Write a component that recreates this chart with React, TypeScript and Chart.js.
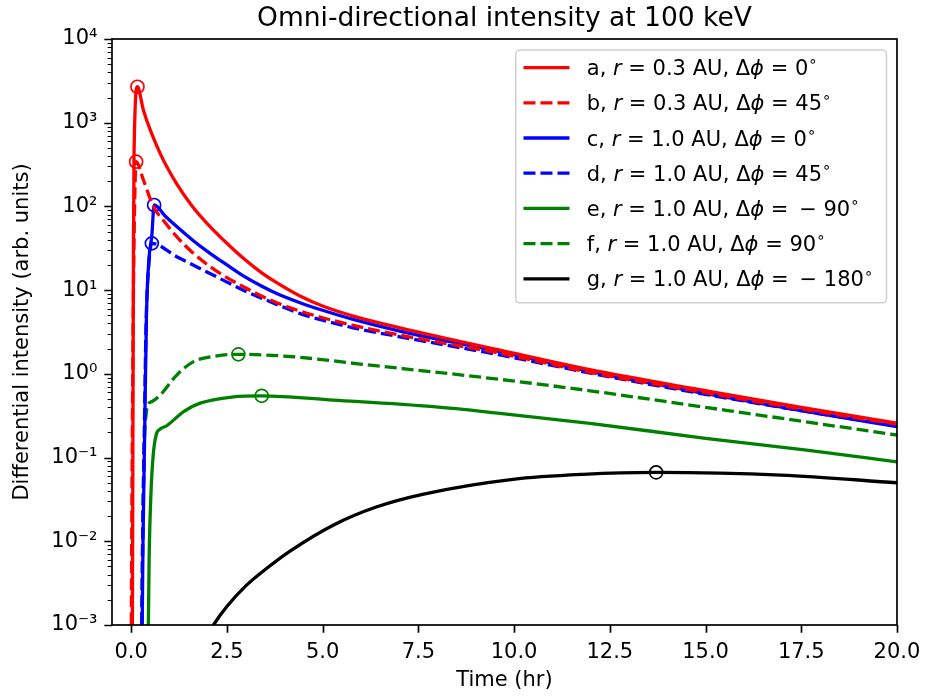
import React, { useEffect, useRef } from "react";
import { Chart, registerables } from "chart.js";

Chart.register(...registerables);

const FONT = "DejaVu Sans";

const TITLE = "Omni-directional intensity at 100 keV";
const X_LABEL = "Time (hr)";
const Y_LABEL = "Differential intensity (arb. units)";

const X_TICKS = [0, 2.5, 5, 7.5, 10, 12.5, 15, 17.5, 20];
const Y_EXPONENTS = [-3, -2, -1, 0, 1, 2, 3, 4];
const X_MIN = -0.5;
const X_MAX = 20;

const LETTERS = ["a", "b", "c", "d", "e", "f", "g"];
const RADII = [0.3, 0.3, 1.0, 1.0, 1.0, 1.0, 1.0];
const DPHI = [0, 45, 0, 45, -90, 90, -180];
const COLORS = ["#ff0000", "#ff0000", "#0000ff", "#0000ff", "#008000", "#008000", "#000000"];
const DASHED = [false, true, false, true, false, true, false];

// a: r = 0.3 AU, dphi = 0
const tA = [0.03, 0.045, 0.06, 0.075, 0.165, 0.32, 0.76, 1.19, 1.6, 2.06, 2.5, 2.93, 3.4, 3.8, 4.41, 5.0, 5.8, 7.02, 9.63, 12.25, 15, 17.5, 20];
const vA = [0.0004, 0.1, 31.6, 398, 2690, 1413, 427, 186, 100, 57.5, 36.3, 24.0, 16.2, 12.3, 8.51, 6.46, 4.9, 3.55, 1.92, 1.06, 0.631, 0.398, 0.257];
// b: r = 0.3 AU, dphi = 45
const tB = [0.0, 0.02, 0.05, 0.09, 0.13, 0.32, 0.58, 0.9, 1.19, 1.6, 2.06, 2.5, 2.93, 3.4, 3.8, 4.41, 5.0, 5.8, 7.02, 9.63, 12.25, 15, 17.5, 20];
const vB = [0.0004, 0.0316, 3.16, 100, 342, 207, 100, 63.1, 43.5, 28.2, 19.1, 14.1, 11.0, 8.51, 7.08, 5.62, 4.68, 3.8, 2.91, 1.76, 0.986, 0.596, 0.38, 0.251];
// c: r = 1.0 AU, dphi = 0
const tC = [0.28, 0.31, 0.35, 0.4, 0.47, 0.54, 0.6, 0.9, 1.19, 1.6, 2.06, 2.5, 2.93, 3.4, 3.8, 4.41, 5.0, 5.8, 7.02, 9.63, 12.25, 15, 17.5, 20];
const vC = [0.0004, 0.01, 0.158, 5.01, 25.1, 44.7, 104, 75.9, 57.5, 39.8, 27.5, 20.0, 14.8, 11.2, 9.12, 7.08, 5.75, 4.47, 3.24, 1.84, 1.01, 0.582, 0.363, 0.234];
// d: r = 1.0 AU, dphi = 45
const tD = [0.27, 0.3, 0.34, 0.39, 0.46, 0.54, 1.19, 2.06, 2.93, 3.8, 4.41, 5.0, 5.8, 7.02, 9.63, 12.25, 15, 17.5, 20];
const vD = [0.0004, 0.01, 0.158, 3.98, 20.0, 36.2, 25.1, 15.8, 10.0, 6.76, 5.25, 4.37, 3.55, 2.77, 1.68, 0.968, 0.569, 0.363, 0.24];
// e: r = 1.0 AU, dphi = -90
const tE = [0.44, 0.47, 0.52, 0.58, 0.66, 0.76, 0.93, 1.37, 1.8, 2.67, 3.41, 5.28, 7.89, 9.63, 11.98, 15, 17.64, 20];
const vE = [0.0004, 0.0063, 0.0398, 0.112, 0.191, 0.219, 0.24, 0.355, 0.447, 0.531, 0.547, 0.486, 0.405, 0.337, 0.256, 0.17, 0.123, 0.089];
// f: r = 1.0 AU, dphi = 90
const tF = [0.27, 0.3, 0.34, 0.4, 0.45, 0.55, 0.76, 1.19, 1.63, 2.24, 2.8, 4.24, 5.98, 9.63, 11.98, 15, 20];
const vF = [0.0004, 0.01, 0.126, 0.355, 0.437, 0.468, 0.558, 0.968, 1.4, 1.64, 1.71, 1.6, 1.31, 0.859, 0.628, 0.398, 0.186];
// g: r = 1.0 AU, dphi = -180
const tG = [1.95, 2.15, 2.5, 3.0, 3.55, 4.14, 5.3, 6.4, 7.64, 9.97, 11.8, 13.71, 16.97, 20];
const vG = [0.000692, 0.001, 0.00166, 0.00295, 0.00479, 0.00759, 0.0158, 0.0257, 0.0367, 0.055, 0.0631, 0.0665, 0.0618, 0.05];

const TIMES = [tA, tB, tC, tD, tE, tF, tG];
const VALUES = [vA, vB, vC, vD, vE, vF, vG];

const SUP: Record<string, string> = {
  "0": "\u2070", "1": "\u00b9", "2": "\u00b2", "3": "\u00b3", "4": "\u2074",
  "5": "\u2075", "6": "\u2076", "7": "\u2077", "8": "\u2078", "9": "\u2079", "-": "\u207b",
};
const supText = (n: number) => String(n).split("").map((c) => SUP[c] || c).join("");

type Piece = { t: string; s?: "i" | "sup" };

function labelPieces(i: number): Piece[] {
  const d = DPHI[i];
  const p: Piece[] = [
    { t: `${LETTERS[i]}, ` },
    { t: "r", s: "i" },
    { t: " = " + RADII[i].toFixed(1) + " AU, \u0394" },
    { t: "\u03d5", s: "i" },
  ];
  if (d < 0) p.push({ t: " = \u2009\u2212 " + Math.abs(d) });
  else p.push({ t: " = " + d });
  p.push({ t: "\u2218", s: "sup" });
  return p;
}

function labelString(i: number): string {
  return labelPieces(i).map((p) => (p.s === "sup" ? "\u00b0" : p.t)).join("");
}

function drawPieces(ctx: CanvasRenderingContext2D, pieces: Piece[], x: number, y: number, fs: number, measureOnly = false): number {
  let cx = x;
  for (const p of pieces) {
    let size = fs;
    let dy = 0;
    let style = "";
    if (p.s === "i") style = "italic ";
    if (p.s === "sup") {
      size = fs * 0.7;
      dy = -fs * 0.42;
    }
    ctx.font = `${style}${size}px "${FONT}"`;
    if (!measureOnly) ctx.fillText(p.t, cx, y + dy);
    cx += ctx.measureText(p.t).width;
  }
  return cx - x;
}

const FS = 21;
const LW = 3.3;
const DASH = [12, 5];

const mplPlugin = {
  id: "mplDecor",
  afterDatasetsDraw(chart: any) {
    const { ctx, chartArea: a, scales } = chart;
    const xs = scales.x;
    const ys = scales.y;
    ctx.save();
    ctx.strokeStyle = "#000";
    ctx.lineCap = "butt";
    // ticks
    ctx.lineWidth = 1.7;
    ctx.beginPath();
    for (const v of X_TICKS) {
      const px = Math.round(xs.getPixelForValue(v)) + 0.5;
      ctx.moveTo(px, a.bottom);
      ctx.lineTo(px, a.bottom + 7.7);
    }
    for (const e of Y_EXPONENTS) {
      const py = Math.round(ys.getPixelForValue(Math.pow(10, e))) + 0.5;
      ctx.moveTo(a.left, py);
      ctx.lineTo(a.left - 7.7, py);
    }
    ctx.stroke();
    ctx.lineWidth = 1.2;
    ctx.beginPath();
    for (const e of Y_EXPONENTS) {
      if (e >= 4) continue;
      for (let m = 2; m <= 9; m++) {
        const py = Math.round(ys.getPixelForValue(m * Math.pow(10, e))) + 0.5;
        ctx.moveTo(a.left, py);
        ctx.lineTo(a.left - 4.4, py);
      }
    }
    ctx.stroke();
    // frame
    ctx.lineWidth = 1.7;
    ctx.strokeRect(a.left, a.top, a.right - a.left, a.bottom - a.top);

    // legend
    const pad = 7.7;
    const handle = 46;
    const textPad = 17.3;
    const rightPad = 13.4;
    const rowGap = 35.2;
    const firstRow = 17.6;
    const lastPad = 24;
    let maxW = 0;
    for (let i = 0; i < LETTERS.length; i++) {
      maxW = Math.max(maxW, drawPieces(ctx, labelPieces(i), 0, 0, FS, true));
    }
    const boxW = pad + handle + textPad + maxW + rightPad;
    const boxR = a.right - 10.5;
    const boxL = boxR - boxW;
    const boxT = a.top + 11;
    const boxB = boxT + firstRow + rowGap * (LETTERS.length - 1) + lastPad;
    const r = 4;
    ctx.beginPath();
    ctx.moveTo(boxL + r, boxT);
    ctx.lineTo(boxR - r, boxT);
    ctx.arcTo(boxR, boxT, boxR, boxT + r, r);
    ctx.lineTo(boxR, boxB - r);
    ctx.arcTo(boxR, boxB, boxR - r, boxB, r);
    ctx.lineTo(boxL + r, boxB);
    ctx.arcTo(boxL, boxB, boxL, boxB - r, r);
    ctx.lineTo(boxL, boxT + r);
    ctx.arcTo(boxL, boxT, boxL + r, boxT, r);
    ctx.closePath();
    ctx.fillStyle = "rgba(255,255,255,0.8)";
    ctx.fill();
    ctx.lineWidth = 1.5;
    ctx.strokeStyle = "#d0d0d0";
    ctx.stroke();

    ctx.textBaseline = "alphabetic";
    ctx.textAlign = "left";
    for (let i = 0; i < LETTERS.length; i++) {
      const cy = boxT + firstRow + rowGap * i;
      ctx.beginPath();
      ctx.strokeStyle = COLORS[i];
      ctx.lineWidth = LW;
      ctx.setLineDash(DASHED[i] ? DASH : []);
      ctx.moveTo(boxL + pad, cy);
      ctx.lineTo(boxL + pad + handle, cy);
      ctx.stroke();
      ctx.setLineDash([]);
      ctx.fillStyle = "#000";
      drawPieces(ctx, labelPieces(i), boxL + pad + handle + textPad, cy + 0.365 * FS, FS);
    }
    ctx.restore();
  },
};

export default function App() {
  const ref = useRef<HTMLCanvasElement | null>(null);

  useEffect(() => {
    if (!ref.current) return;
    const datasets = TIMES.map((ts, i) => {
      const vals = VALUES[i];
      let peak = 0;
      vals.forEach((v, k) => {
        if (v > vals[peak]) peak = k;
      });
      return {
        label: labelString(i),
        data: ts.map((t, k) => ({ x: t, y: vals[k] })),
        borderColor: COLORS[i],
        backgroundColor: COLORS[i],
        borderWidth: LW,
        borderDash: DASHED[i] ? DASH : [],
        cubicInterpolationMode: "monotone" as const,
        fill: false,
        clip: 0,
        pointRadius: (c: any) => (c.dataIndex === peak ? 6.5 : 0),
        pointHoverRadius: 0,
        pointBorderWidth: 1.7,
        pointBorderColor: COLORS[i],
        pointBackgroundColor: "rgba(0,0,0,0)",
      };
    });

    const chart = new Chart(ref.current, {
      type: "line",
      data: { datasets },
      plugins: [mplPlugin],
      options: {
        animation: false,
        responsive: true,
        maintainAspectRatio: false,
        devicePixelRatio: 1,
        events: [],
        layout: { autoPadding: false, padding: { left: 0, right: 28, top: 0, bottom: 0 } },
        plugins: {
          legend: { display: false },
          tooltip: { enabled: false },
          title: {
            display: true,
            fullSize: false,
            text: TITLE,
            color: "#000",
            font: { family: FONT, size: 26.5, weight: "normal" },
            padding: { top: 3, bottom: 4.2 },
          },
        },
        scales: {
          x: {
            type: "linear",
            min: X_MIN,
            max: X_MAX,
            offset: false,
            grid: { display: false, drawTicks: false },
            border: { display: false },
            afterBuildTicks: (s: any) => {
              s.ticks = X_TICKS.map((v) => ({ value: v }));
            },
            afterFit: (s: any) => {
              s.height = 71;
              s.paddingLeft = 0;
              s.paddingRight = 0;
            },
            ticks: {
              color: "#000",
              font: { family: FONT, size: FS },
              padding: 15,
              maxRotation: 0,
              autoSkip: false,
              callback: (v: any) => Number(v).toFixed(1),
            },
            title: {
              display: true,
              text: X_LABEL,
              color: "#000",
              font: { family: FONT, size: FS },
              padding: { top: 0, bottom: 2.6 },
            },
          },
          y: {
            type: "logarithmic",
            min: Math.pow(10, Y_EXPONENTS[0]),
            max: Math.pow(10, Y_EXPONENTS[Y_EXPONENTS.length - 1]),
            grid: { display: false, drawTicks: false },
            border: { display: false },
            afterBuildTicks: (s: any) => {
              s.ticks = Y_EXPONENTS.map((e) => ({ value: Math.pow(10, e) }));
            },
            afterFit: (s: any) => {
              s.width = 112;
              s.paddingTop = 0;
              s.paddingBottom = 0;
            },
            ticks: {
              color: "#000",
              font: { family: FONT, size: FS },
              padding: 14.5,
              autoSkip: false,
              callback: (v: any) => "10" + supText(Math.round(Math.log10(Number(v)))),
            },
            title: {
              display: true,
              text: Y_LABEL,
              color: "#000",
              font: { family: FONT, size: FS },
              padding: { top: 9.9, bottom: 0 },
            },
          },
        },
      },
    });
    return () => chart.destroy();
  }, []);

  return (
    <div style={{ position: "fixed", left: 0, top: 0, width: 925, height: 696, background: "#fff" }}>
      <canvas ref={ref} />
    </div>
  );
}
